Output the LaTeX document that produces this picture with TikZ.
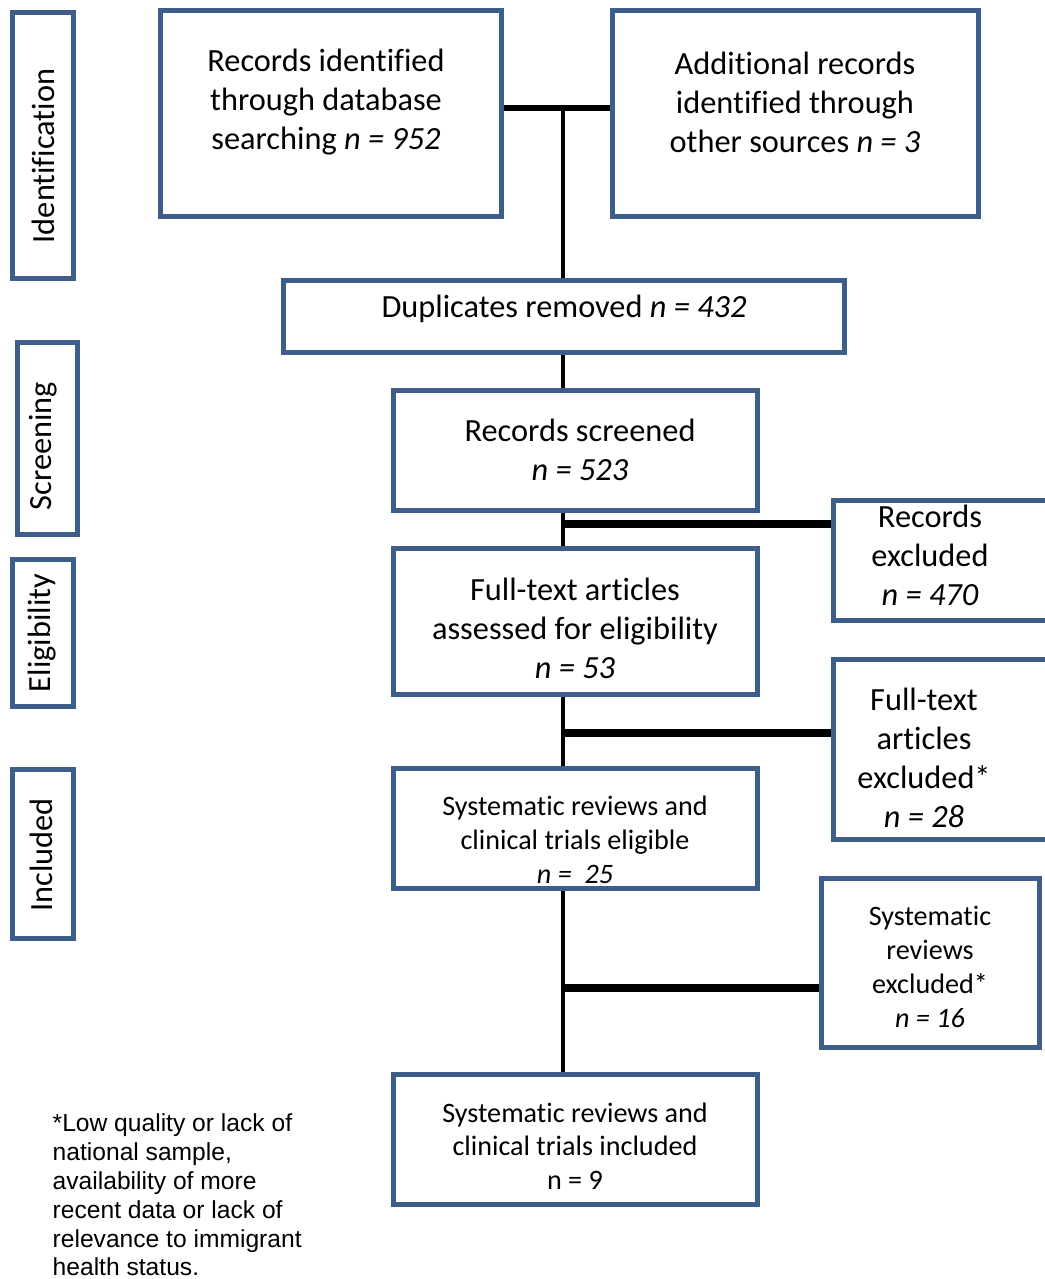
\documentclass[tikz,border=0pt]{standalone}
\usepackage{fontspec}
\setmainfont[Ligatures=NoCommon]{Carlito}
\newfontfamily\notefont{Liberation Sans}
\usetikzlibrary{positioning}
\definecolor{frameblue}{RGB}{61,94,136}
\newcommand{\bigtxt}{\fontsize{9.2}{11.1}\selectfont}
\newcommand{\smalltxt}{\fontsize{8}{9.6}\selectfont}

\begin{document}
\begin{tikzpicture}[
        x=0.01cm, y=-0.01cm,
        font=\bigtxt,
        flowbox/.style={draw=frameblue, line width=1.42pt, inner sep=0pt, minimum width=#1},
        boxtxt/.style={align=center, inner sep=0pt},
        stagetxt/.style={inner sep=0pt, rotate=90},
        conn/.style={line width=#1, black},
        conn/.default=1.2pt,
    ]
    \useasboundingbox (0,0) rectangle (1044,1279);

    % Stage boxes
    \node[flowbox=0.61cm, minimum height=2.66cm] (idb) at (43,145.5) {};
    \node[flowbox=0.60cm, minimum height=1.92cm] (scb) at (47.5,438.5) {};
    \node[flowbox=0.61cm, minimum height=1.47cm] (elb) at (43,633) {};
    \node[flowbox=0.61cm, minimum height=1.69cm] (inb) at (43,854) {};
    \node[stagetxt] (idt) at (43,156) {Identification};
    \node[stagetxt] (sct) at (43,446) {Screening};
    \node[stagetxt] (elt) at (42,633) {Eligibility};
    \node[stagetxt] (int) at (41,855) {Included};

    % Identification
    \node[flowbox=3.41cm, minimum height=2.06cm] (db) at (331,113.5) {};
    \node[boxtxt] (dbt) at (326,102) {Records identified\\through database\\searching \textit{n = 952}};
    \node[flowbox=3.66cm, minimum height=2.06cm] (oth) at (795.5,113.5) {};
    \node[boxtxt] (otht) at (795,102) {Additional records\\identified through\\other sources \textit{n = 3}};
    \node[flowbox=5.61cm, minimum height=0.72cm] (dup) at (564,316.5) {};
    \node[boxtxt] (dupt) at (564,309) {Duplicates removed \textit{n = 432}};

    % Screening and eligibility
    \node[flowbox=3.64cm, minimum height=1.20cm] (scr) at (575.5,450.5) {};
    \node[boxtxt] (scrt) at (580,450) {Records screened\\\textit{n = 523}};
    \node[flowbox=2.14cm, minimum height=1.20cm] (rex) at (940.5,560.5) {};
    \node[boxtxt] (rext) at (930,555) {Records\\excluded\\\textit{n = 470}};
    \node[flowbox=3.64cm, minimum height=1.46cm] (ful) at (575.5,621.5) {};
    \node[boxtxt] (fult) at (575,628) {Full-text articles\\assessed for eligibility\\\textit{n = 53}};
    \node[flowbox=2.14cm, minimum height=1.80cm] (fex) at (940.5,749.5) {};
    \node[boxtxt] (fext) at (924,758) {Full-text\\articles\\excluded*\\\textit{n = 28}};

    % Included
    \node[flowbox=3.64cm, minimum height=1.20cm] (eli) at (575.5,828.5) {};
    \node[boxtxt, font=\smalltxt] (elit) at (575,840) {Systematic reviews and\\clinical trials eligible\\\textit{n =\ \ 25}};
    \node[flowbox=2.18cm, minimum height=1.69cm] (sex) at (930.5,963) {};
    \node[boxtxt, font=\smalltxt] (sext) at (930,967) {Systematic\\reviews\\excluded*\\\textit{n = 16}};
    \node[flowbox=3.64cm, minimum height=1.30cm] (inc) at (575.5,1139.5) {};
    \node[boxtxt, font=\smalltxt] (inct) at (575,1146) {Systematic reviews and\\clinical trials included\\n = 9};

    % Footnote
    \node[align=left, inner sep=0pt, anchor=west, font=\notefont\fontsize{7}{8.2}\selectfont] (note) at (52,1195)
        {*Low quality or lack of\\national sample,\\availability of more\\recent data or lack of\\relevance to immigrant\\health status.};

    % Connections
    \coordinate (sp) at (563,108);
    \coordinate (b1) at (563,524);
    \coordinate (b2) at (563,733);
    \coordinate (b3) at (563,988);
    \draw[conn=1.5pt] (db.east |- sp) -- (oth.west |- sp);
    \draw[conn=1.4pt] (sp) -- (sp |- dup.north);
    \draw[conn] (sp |- dup.south) -- (sp |- scr.north);
    \draw[conn] (sp |- scr.south) -- (sp |- ful.north);
    \draw[conn] (sp |- ful.south) -- (sp |- eli.north);
    \draw[conn] (sp |- eli.south) -- (sp |- inc.north);
    \draw[conn=2pt] (b1) -- (b1 -| rex.west);
    \draw[conn=2pt] (b2) -- (b2 -| fex.west);
    \draw[conn=2pt] (b3) -- (b3 -| sex.west);
\end{tikzpicture}
\end{document}
